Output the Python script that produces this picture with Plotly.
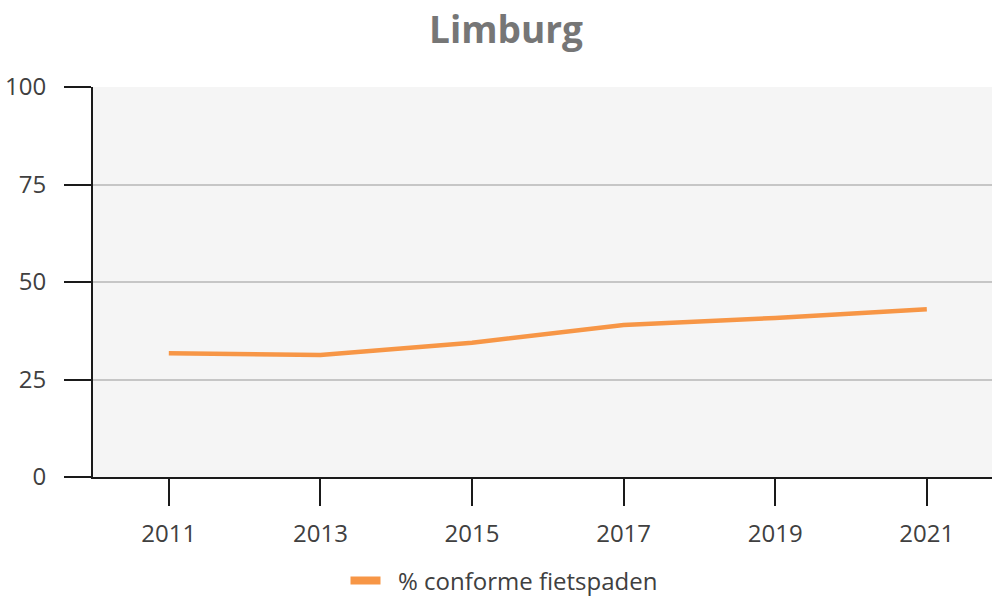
import plotly.graph_objects as go

years = ["2011", "2013", "2015", "2017", "2019", "2021"]
pct_conform = [31.7, 31.3, 34.4, 39.0, 40.8, 43.0]
y_ticks = [0, 25, 50, 75, 100]
series_name = "% conforme fietspaden"
title_text = "Limburg"

ORANGE = "#f79646"
FONT = "Open Sans"

fig = go.Figure()
fig.add_trace(go.Scatter(
    x=years, y=pct_conform, mode="lines",
    line=dict(color=ORANGE, width=4.5),
    showlegend=False, hoverinfo="x+y",
))
# legend-only entry with thicker swatch
fig.add_trace(go.Scatter(
    x=[None], y=[None], mode="lines", name="\u00a0\u00a0" + series_name,
    line=dict(color=ORANGE, width=8), showlegend=True,
))

fig.update_layout(
    width=992, height=596,
    margin=dict(l=93, r=0, t=87, b=119),
    paper_bgcolor="white",
    plot_bgcolor="#f5f5f5",
    font=dict(family=FONT, size=24, color="#404040"),
    title=dict(text="<b>" + title_text + "</b>", x=506 / 992, xref="container",
               xanchor="center", y=1 - 30 / 596, yref="container", yanchor="middle",
               font=dict(family=FONT, size=37, color="#767676")),
    legend=dict(orientation="h", xref="container", yref="container",
                x=504 / 992, xanchor="center", y=1 - 581 / 596, yanchor="middle",
                itemwidth=30, font=dict(family=FONT, size=24, color="#404040"),
                bgcolor="rgba(0,0,0,0)"),
    showlegend=True,
)

fig.update_xaxes(
    type="category", range=[-0.5, 5.43],
    showline=True, linecolor="#1a1a1a", linewidth=2,
    ticks="outside", ticklen=27, tickwidth=2, tickcolor="#1a1a1a",
    ticklabelstandoff=7,
    showgrid=False, zeroline=False,
    tickfont=dict(family=FONT, size=24, color="#404040"),
)
fig.update_yaxes(
    range=[0, 100], tickvals=y_ticks,
    showline=True, linecolor="#1a1a1a", linewidth=2,
    ticks="outside", ticklen=27, tickwidth=2, tickcolor="#1a1a1a",
    ticklabelstandoff=13,
    showgrid=True, gridcolor="#c6c6c6", gridwidth=2,
    zeroline=False,
    tickfont=dict(family=FONT, size=24, color="#404040"),
)

fig.write_html("out.html", config={"displayModeBar": False},
               post_script="document.body.style.margin='0';document.body.style.overflow='hidden';")
